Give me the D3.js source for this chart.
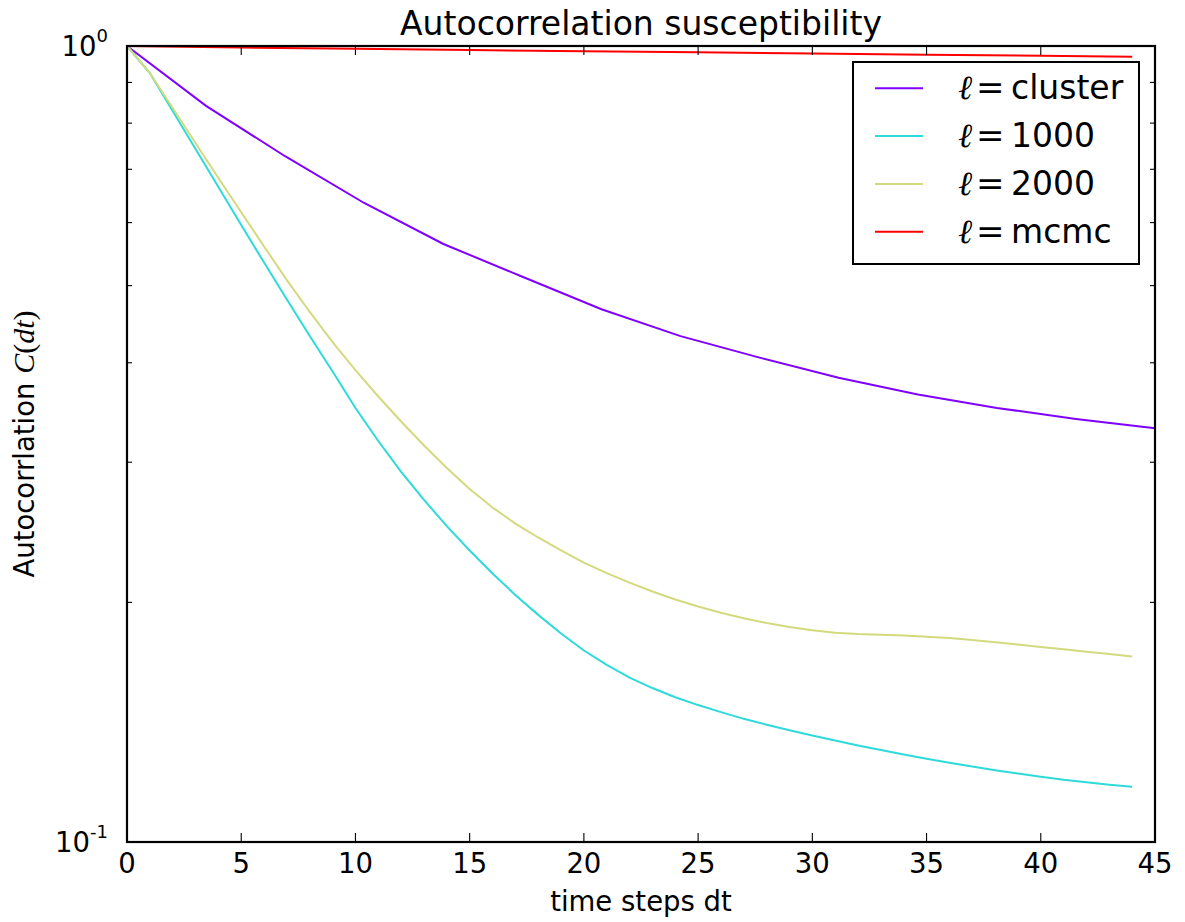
<!DOCTYPE html>
<html>
<head>
<meta charset="utf-8">
<script src="https://cdn.jsdelivr.net/npm/d3@7"></script>
<style>
  body { margin: 0; background: #fff; }
  svg text { font-family: "DejaVu Sans", sans-serif; fill: #000; }
</style>
</head>
<body>
<svg id="chart" width="1185" height="922"></svg>
<script>
// time steps for the 1000 / 2000 runs
var steps = [0,1,2,3,4,5,6,7,8,9,10,11,12,13,14,15,16,17,18,19,20,21,22,
             23,24,25,26,27,28,29,30,31,32,33,34,35,36,37,38,39,40,41,42,43,44];

var corr1000 = [1.0,0.9249,0.8286,0.7423,0.6651,0.5958,0.5345,0.4803,0.4321,0.3900,0.3509,
                0.3190,0.2917,0.2690,0.2494,0.2324,0.2174,0.2043,0.1929,0.1828,0.1740,
                0.1669,0.1609,0.1561,0.1520,0.1486,0.1456,0.1428,0.1404,0.1382,0.1361,
                0.1341,0.1322,0.1305,0.1288,0.1272,0.1258,0.1244,0.1231,0.1219,0.1208,
                0.1197,0.1189,0.1180,0.1173];

var corr2000 = [1.0,0.9249,0.8358,0.7553,0.6826,0.6181,0.5600,0.5081,0.4633,0.4246,0.3916,
                0.3628,0.3375,0.3149,0.2950,0.2776,0.2632,0.2512,0.2413,0.2324,0.2244,
                0.2177,0.2118,0.2064,0.2017,0.1976,0.1941,0.1910,0.1884,0.1862,0.1845,
                0.1832,0.1825,0.1821,0.1817,0.1811,0.1804,0.1794,0.1782,0.1770,0.1758,
                0.1746,0.1734,0.1722,0.1710];

// cluster run, coarser sampling
var clusterSteps = [0,3.46,6.92,10.38,13.85,17.31,20.77,24.23,27.69,31.15,34.62,38.08,41.54,45];
var corrCluster  = [1.0,0.841,0.727,0.635,0.564,0.513,0.467,0.432,0.406,0.383,0.365,0.351,0.340,0.331];

var mcmcSteps = [0,5,10,15,20,25,30,35,40,44];
var corrMcmc  = [1.0,0.9957,0.9919,0.9885,0.9851,0.9819,0.9785,0.9752,0.9720,0.9692];

var xTicks = [0,5,10,15,20,25,30,35,40,45];
var yMinor = [0.2,0.3,0.4,0.5,0.6,0.7,0.8,0.9];

var names  = ["cluster","1000","2000","mcmc"];
var colors = ["#8000ff","#2edada","#d3da7e","#ff0000"];

var series = [
  {name: names[0], color: colors[0], t: clusterSteps, v: corrCluster},
  {name: names[1], color: colors[1], t: steps, v: corr1000},
  {name: names[2], color: colors[2], t: steps, v: corr2000},
  {name: names[3], color: colors[3], t: mcmcSteps, v: corrMcmc}
];

var pLeft = 127, pRight = 1155, pTop = 46, pBottom = 842;

var svg = d3.select("#chart");

var x = d3.scaleLinear().domain([0,45]).range([pLeft,pRight]);
var y = d3.scaleLog().domain([0.1,1]).range([pBottom,pTop]);

// data lines
var line = d3.line()
    .x(function(d){ return x(d[0]); })
    .y(function(d){ return y(d[1]); });

series.forEach(function(s){
  var pts = s.t.map(function(t,i){ return [t, s.v[i]]; });
  svg.append("path")
     .datum(pts)
     .attr("d", line)
     .attr("fill","none")
     .attr("stroke", s.color)
     .attr("stroke-width", 2);
});

// ticks, all pointing inward
var g = svg.append("g").attr("stroke","#000").attr("stroke-width",1.1);
xTicks.forEach(function(t){
  g.append("line").attr("x1",x(t)).attr("x2",x(t)).attr("y1",pBottom).attr("y2",pBottom-9);
  g.append("line").attr("x1",x(t)).attr("x2",x(t)).attr("y1",pTop).attr("y2",pTop+9);
});
yMinor.forEach(function(v){
  g.append("line").attr("x1",pLeft).attr("x2",pLeft+5).attr("y1",y(v)).attr("y2",y(v));
  g.append("line").attr("x1",pRight).attr("x2",pRight-5).attr("y1",y(v)).attr("y2",y(v));
});

// frame
svg.append("rect")
   .attr("x",pLeft).attr("y",pTop)
   .attr("width",pRight-pLeft).attr("height",pBottom-pTop)
   .attr("fill","none").attr("stroke","#000").attr("stroke-width",2.2);

// x tick labels
svg.selectAll(".xlab").data(xTicks).enter().append("text")
   .attr("x", function(d){ return x(d); })
   .attr("y", pBottom + 31)
   .attr("text-anchor","middle")
   .attr("font-size", 27.5)
   .text(function(d){ return d; });

// y tick labels 10^0, 10^-1
[[1,"0"],[0.1,"-1"]].forEach(function(p){
  var t = svg.append("text")
     .attr("x", 108).attr("y", y(p[0]) + 9.5)
     .attr("text-anchor","end")
     .attr("font-size", 27.5);
  t.append("tspan").text("10");
  t.append("tspan").attr("dy",-14).attr("font-size",18).text(p[1]);
});

// title and axis labels
svg.append("text")
   .attr("x", (pLeft+pRight)/2).attr("y", 34.5)
   .attr("text-anchor","middle")
   .attr("font-size", 33)
   .text("Autocorrelation susceptibility");

svg.append("text")
   .attr("x", (pLeft+pRight)/2).attr("y", 911)
   .attr("text-anchor","middle")
   .attr("font-size", 27.5)
   .text("time steps dt");

var yl = svg.append("text")
   .attr("transform","translate(34," + ((pTop+pBottom)/2) + ") rotate(-90)")
   .attr("text-anchor","middle")
   .attr("font-size", 27.5);
yl.append("tspan").text("Autocorrlation ");
yl.append("tspan").style("font-family","'Liberation Serif', serif").style("font-style","italic").attr("font-size",30).text("C");
yl.append("tspan").style("font-family","'Liberation Serif', serif").attr("font-size",30).text("(");
yl.append("tspan").style("font-family","'Liberation Serif', serif").style("font-style","italic").attr("font-size",30).text("dt");
yl.append("tspan").style("font-family","'Liberation Serif', serif").attr("font-size",30).text(")");

// legend
var leg = svg.append("g");
leg.append("rect")
   .attr("x",853).attr("y",62).attr("width",286).attr("height",202)
   .attr("fill","#fff").attr("stroke","#000").attr("stroke-width",2);

series.forEach(function(s,i){
  var ly = 88.3 + i*47.8;
  leg.append("line")
     .attr("x1",875).attr("x2",923).attr("y1",ly).attr("y2",ly)
     .attr("stroke", s.color).attr("stroke-width",2);
  leg.append("text")
     .attr("x",958).attr("y",ly+11)
     .attr("font-size",34)
     .style("font-family","'DejaVu Serif', serif").style("font-style","italic")
     .text("\u2113");
  leg.append("text")
     .attr("x",976).attr("y",ly+11)
     .attr("font-size",34)
     .style("font-family","'DejaVu Serif', serif")
     .text("=");
  leg.append("text")
     .attr("x",1011).attr("y",ly+11)
     .attr("font-size",33)
     .text(s.name);
});
</script>
</body>
</html>
